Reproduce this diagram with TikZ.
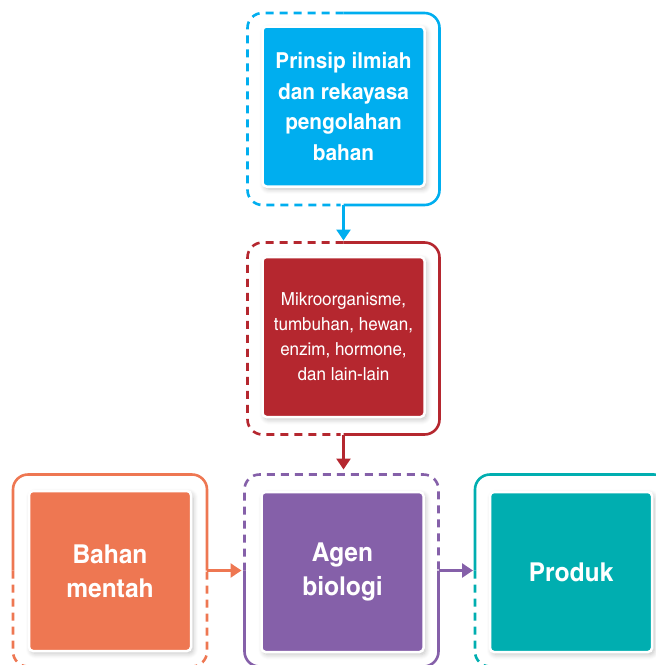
\documentclass[tikz,border=0pt]{standalone}
\usepackage{fontspec}
\newfontfamily\condfont{texgyreheroscn}[Extension=.otf, UprightFont=*-regular, BoldFont=*-bold, FakeStretch=1.15]
\usetikzlibrary{arrows.meta,shadows.blur}
\definecolor{cblue}{HTML}{00AEEF}
\definecolor{cred}{HTML}{B5272F}
\definecolor{corange}{HTML}{EE7752}
\definecolor{cpurple}{HTML}{8560A9}
\definecolor{cteal}{HTML}{00AEB0}
\tikzset{
  x=1pt, y=1pt,
  framebox/.style={minimum width=192pt, minimum height=192pt, inner sep=0pt, outer sep=0pt},
  frameline/.style={line width=2.6pt, rounded corners=15pt},
  dashline/.style={frameline, dash pattern=on 8pt off 6pt},
  innerbox/.style={fill=#1, draw=white, line width=2.5pt, rounded corners=4pt,
    minimum width=162pt, minimum height=160pt, inner sep=0pt, text=white, align=center,
    blur shadow={shadow xshift=2pt, shadow yshift=-2.5pt, shadow blur steps=6, shadow opacity=25, shadow blur radius=5pt}},
  bigbold/.style={font=\condfont\bfseries\fontsize{22}{30.5}\selectfont},
  midreg/.style={font=\condfont\fontsize{18}{25}\selectfont},
  hugebold/.style={font=\condfont\bfseries\fontsize{26}{34}\selectfont},
  arr/.style={line width=2.6pt, -{Triangle[width=14pt,length=11pt]}},
}
\begin{document}
\begin{tikzpicture}
\useasboundingbox (0,0) rectangle (656,-665);
\clip (0,0) rectangle (656,-665);
% frames (invisible anchors)
\node[framebox] (f1) at (343.5,-109) {};
\node[framebox] (f2) at (343.5,-338.5) {};
\node[framebox, minimum width=194pt] (f3) at (110,-570.5) {};
\node[framebox, minimum width=194pt] (f4) at (341.5,-570.5) {};
\node[framebox, minimum width=194pt] (f5) at (572,-570.5) {};
% frame 1
\draw[dashline, cblue] (f1.north) -- (f1.north west) -- (f1.south west) -- ([xshift=-3pt]f1.south);
\draw[frameline, cblue] (f1.north) -- (f1.north east) -- (f1.south east) -- (f1.south);
% frame 2
\draw[dashline, cred] (f2.north) -- (f2.north west) -- (f2.south west) -- ([xshift=-3pt]f2.south);
\draw[frameline, cred] (f2.north) -- (f2.north east) -- (f2.south east) -- (f2.south);
% frame 3
\draw[frameline, corange] (f3.west) -- (f3.north west) -- (f3.north east) -- (f3.east);
\draw[dashline, corange] (f3.west) -- (f3.south west) -- (f3.south east) -- (f3.east);
% frame 4
\draw[dashline, cpurple] (f4.west) -- (f4.north west) -- (f4.north east) -- (f4.east);
\draw[frameline, cpurple] (f4.west) -- (f4.south west) -- (f4.south east) -- (f4.east);
% frame 5
\draw[frameline, cteal] (f5.west) -- (f5.north west) -- (f5.north east) -- (f5.east);
\draw[dashline, cteal] (f5.west) -- (f5.south west) -- (f5.south east) -- (f5.east);
% inner boxes
\node[innerbox=cblue, bigbold] (b1) at (343.5,-106.5) {Prinsip ilmiah\\dan rekayasa\\pengolahan\\bahan};
\node[innerbox=cred, midreg] (b2) at (343.5,-337) {Mikroorganisme,\\tumbuhan, hewan,\\enzim, hormone,\\dan lain-lain};
\node[innerbox=corange, hugebold] (b3) at (110,-571) {Bahan\\mentah};
\node[innerbox=cpurple, hugebold] (b4) at (342.5,-572) {Agen\\biologi};
\node[innerbox=cteal, hugebold] (b5) at (571,-572) {Produk};
% connectors
\draw[arr, cblue] (f1.south) -- ([yshift=2pt]f1.south |- f2.north);
\draw[arr, cred] (f2.south) -- ([yshift=5pt]f2.south |- f4.north);
\draw[arr, corange] (f3.east) -- ([xshift=-3pt]f4.west);
\draw[arr, cpurple] (f4.east) -- ([xshift=-2pt]f5.west);
\end{tikzpicture}
\end{document}
